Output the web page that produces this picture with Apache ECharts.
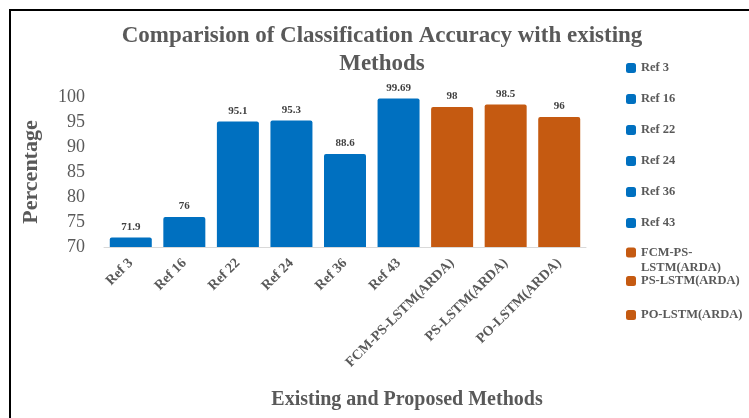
<!DOCTYPE html>
<html>
<head>
<meta charset="utf-8">
<script src="https://cdn.jsdelivr.net/npm/echarts@6/dist/echarts.min.js"></script>
<style>
  html, body { margin: 0; padding: 0; background: #fff; }
  #chart { width: 749px; height: 418px; }
</style>
</head>
<body>
<div id="chart"></div>
<script>
// Classification accuracy (%) of existing and proposed methods
const categories = ['Ref 3', 'Ref 16', 'Ref 22', 'Ref 24', 'Ref 36', 'Ref 43',
  'FCM-PS-LSTM(ARDA)', 'PS-LSTM(ARDA)', 'PO-LSTM(ARDA)'];
const accuracy = [71.9, 76, 95.1, 95.3, 88.6, 99.69, 98, 98.5, 96];
const isProposed = [false, false, false, false, false, false, true, true, true];
const yMin = 70, yMax = 100, yStep = 5;

const BLUE = '#0070C0';
const ORANGE = '#C55A11';
const GREY = '#595959';
const FONT = '"Liberation Serif", "DejaVu Serif", serif';

// One stacked series per method so every method gets its own legend entry
const series = categories.map((name, i) => ({
  name: name,
  type: 'bar',
  stack: 'methods',
  barWidth: 42,
  itemStyle: { color: isProposed[i] ? ORANGE : BLUE, borderRadius: [2, 2, 0, 0] },
  label: {
    show: true,
    position: 'top',
    distance: 5,
    color: '#404040',
    fontFamily: FONT,
    fontWeight: 'bold',
    fontSize: 11
  },
  data: categories.map((c, j) => (j === i ? accuracy[i] : '-'))
}));

const legendText = {
  color: GREY,
  fontFamily: FONT,
  fontWeight: 'bold',
  fontSize: 12.5,
  lineHeight: 16
};

const legendBase = {
  orient: 'vertical',
  left: 626,
  padding: 0,
  itemWidth: 10,
  itemHeight: 10,
  icon: 'roundRect'
};

const chart = echarts.init(document.getElementById('chart'), null, { renderer: 'canvas' });
chart.setOption({
  animation: false,
  title: [
    {
      text: 'Comparision of Classification Accuracy with existing\nMethods',
      left: 377,
      top: 17,
      textAlign: 'center',
      textStyle: { color: GREY, fontFamily: FONT, fontWeight: 'bold', fontSize: 23, lineHeight: 28 }
    },
    {
      text: 'Existing and Proposed Methods',
      left: 402,
      top: 385,
      textAlign: 'center',
      textStyle: { color: GREY, fontFamily: FONT, fontWeight: 'bold', fontSize: 20 }
    }
  ],
  legend: [
    Object.assign({}, legendBase, {
      data: categories.slice(0, 6),
      top: 60,
      itemGap: 15,
      textStyle: legendText
    }),
    Object.assign({}, legendBase, {
      // leading blank line keeps the marker beside the first line of the wrapped name
      data: [categories[6]],
      top: 230,
      formatter: () => ' \nFCM-PS-\nLSTM(ARDA)',
      textStyle: Object.assign({}, legendText, { lineHeight: 15 })
    }),
    Object.assign({}, legendBase, {
      data: categories.slice(7),
      top: 273,
      itemGap: 18,
      textStyle: legendText
    })
  ],
  grid: { left: 104, right: 163, top: 97, bottom: 171, containLabel: false },
  xAxis: {
    type: 'category',
    data: categories,
    axisLine: { lineStyle: { color: '#D9D9D9', width: 1 } },
    axisTick: { show: false },
    axisLabel: {
      rotate: 45,
      margin: 14,
      interval: 0,
      color: GREY,
      fontFamily: FONT,
      fontWeight: 'bold',
      fontSize: 14
    }
  },
  yAxis: {
    type: 'value',
    min: yMin,
    max: yMax,
    interval: yStep,
    name: 'Percentage',
    nameLocation: 'middle',
    nameRotate: 90,
    nameGap: 62,
    nameTextStyle: { color: GREY, fontFamily: FONT, fontWeight: 'bold', fontSize: 22 },
    axisLine: { show: false },
    axisTick: { show: false },
    splitLine: { show: false },
    axisLabel: { margin: 19, color: GREY, fontFamily: FONT, fontSize: 18 }
  },
  graphic: [
    {
      type: 'polyline',
      shape: { points: [[10, 418], [10, 10], [749, 10]] },
      style: { stroke: '#000', lineWidth: 2, fill: null },
      silent: true
    }
  ],
  series: series
});
</script>
</body>
</html>
